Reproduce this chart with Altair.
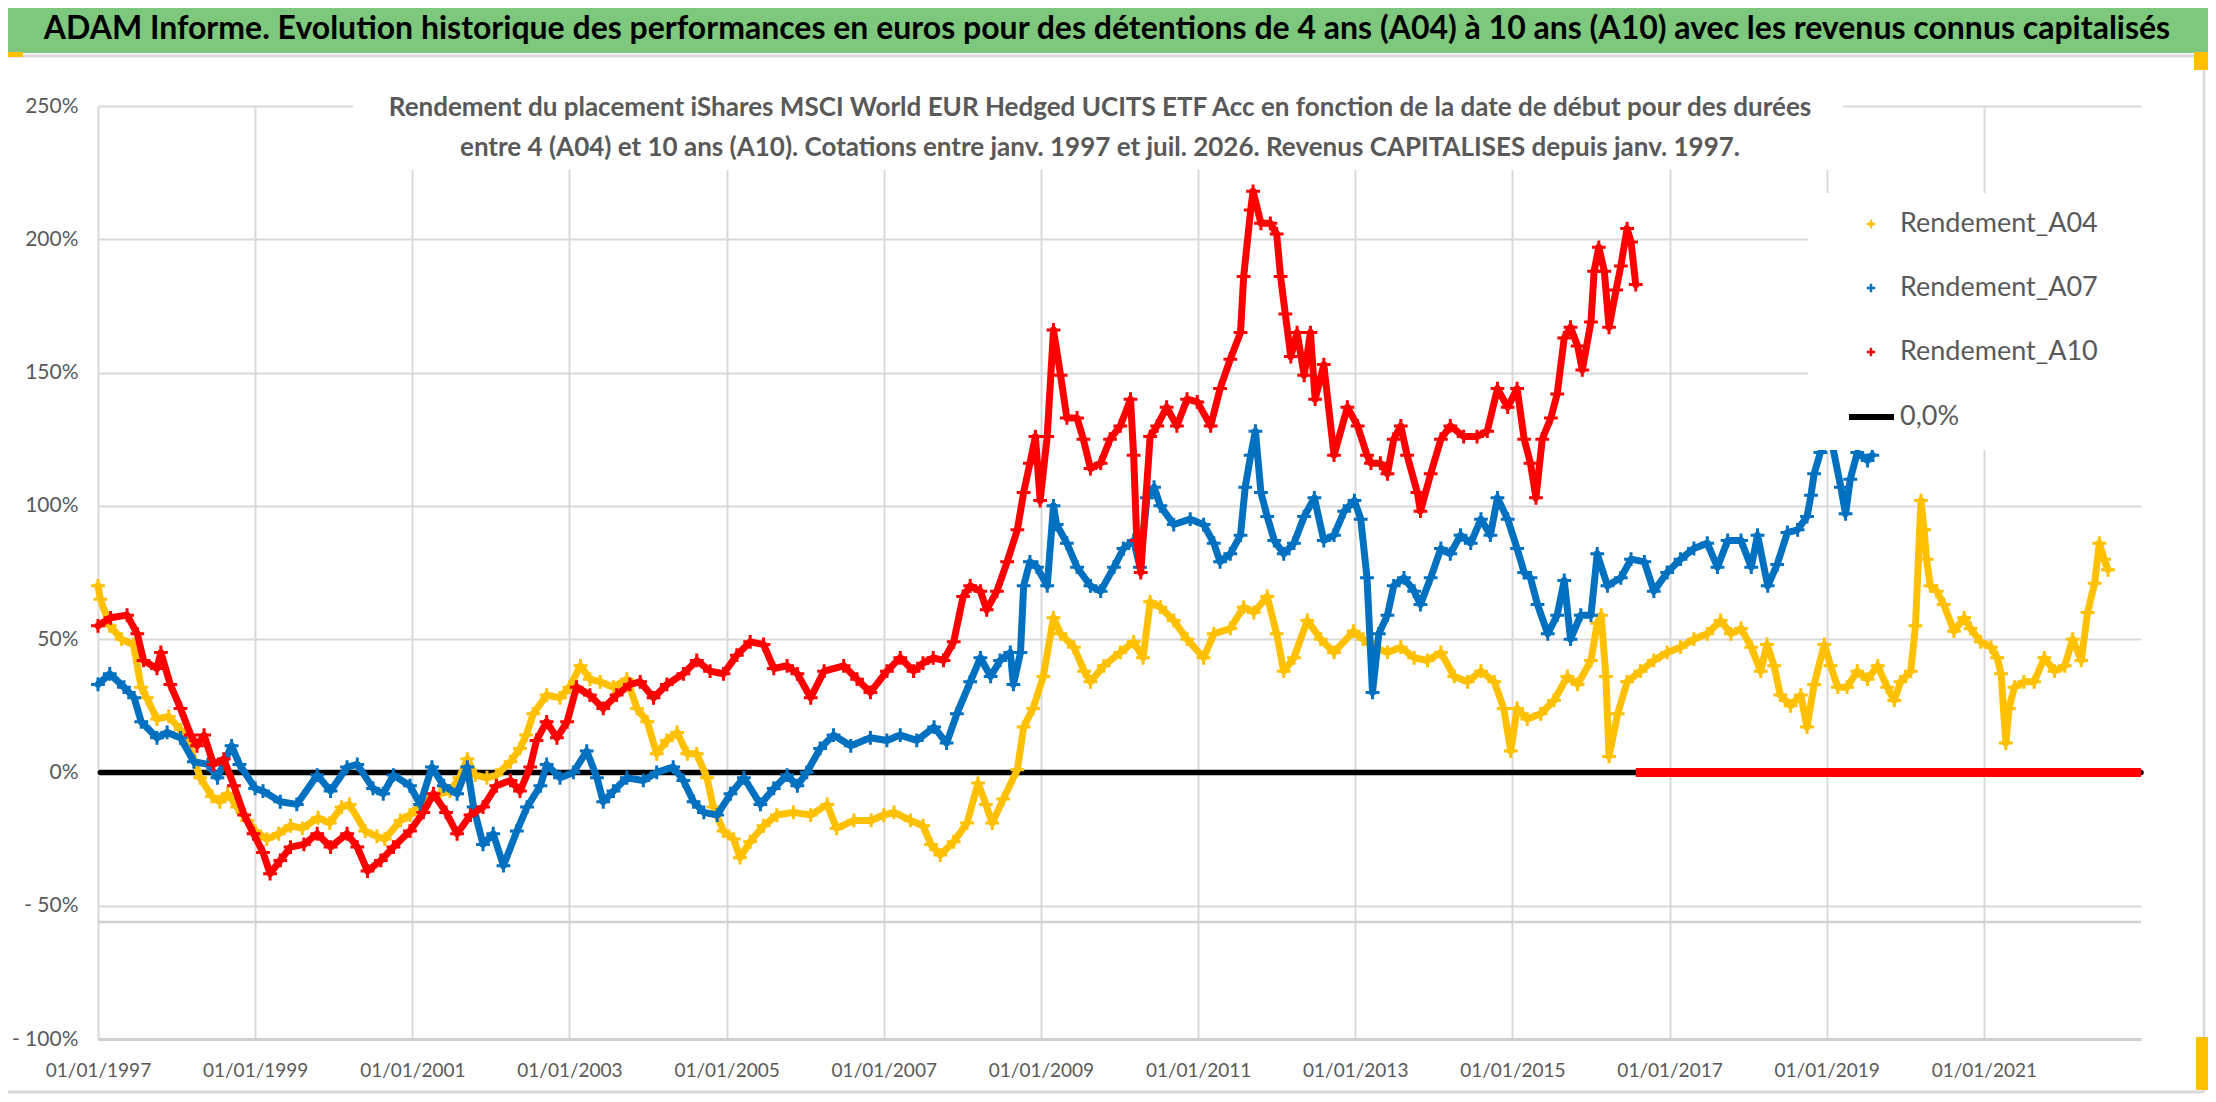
import altair as alt
import pandas as pd

# ---------------- data ----------------
SERIES = ["Rendement_A04", "Rendement_A07", "Rendement_A10"]
COLORS = ["#FFC000", "#0070C0", "#FF0000"]

A04_T = [1997.0, 1997.03, 1997.15, 1997.3, 1997.45, 1997.55, 1997.62, 1997.75, 1997.9, 1998.05,
         1998.15, 1998.3, 1998.45, 1998.55, 1998.65, 1998.77, 1998.9, 1999.0, 1999.15, 1999.3,
         1999.45, 1999.6, 1999.8, 1999.95, 2000.1, 2000.2, 2000.4, 2000.55, 2000.65, 2000.85,
         2000.97, 2001.14, 2001.35, 2001.48, 2001.6, 2001.7, 2001.8, 2001.95, 2002.07, 2002.25,
         2002.37, 2002.45, 2002.54, 2002.71, 2002.88, 2003.0, 2003.14, 2003.26, 2003.39, 2003.56,
         2003.73, 2003.86, 2003.99, 2004.11, 2004.24, 2004.37, 2004.5, 2004.62, 2004.75, 2004.83,
         2004.96, 2005.09, 2005.17, 2005.3, 2005.47, 2005.64, 2005.85, 2006.07, 2006.28, 2006.4,
         2006.62, 2006.84, 2007.0, 2007.13, 2007.34, 2007.5, 2007.6, 2007.72, 2007.89, 2008.06,
         2008.2, 2008.3, 2008.38, 2008.52, 2008.7, 2008.78, 2008.9, 2009.03, 2009.16, 2009.25,
         2009.42, 2009.55, 2009.63, 2009.8, 2010.01, 2010.18, 2010.3, 2010.39, 2010.52, 2010.69,
         2010.86, 2011.07, 2011.2, 2011.41, 2011.58, 2011.71, 2011.88, 2012.0, 2012.09, 2012.22,
         2012.39, 2012.56, 2012.73, 2012.98, 2013.1, 2013.24, 2013.41, 2013.58, 2013.75, 2013.92,
         2014.09, 2014.26, 2014.43, 2014.6, 2014.77, 2014.89, 2014.98, 2015.06, 2015.19, 2015.36,
         2015.53, 2015.7, 2015.83, 2016.0, 2016.08, 2016.13, 2016.19, 2016.23, 2016.34, 2016.46,
         2016.63, 2016.8, 2016.97, 2017.14, 2017.31, 2017.48, 2017.65, 2017.78, 2017.91, 2018.04,
         2018.16, 2018.24, 2018.33, 2018.41, 2018.54, 2018.67, 2018.75, 2018.84, 2018.97, 2019.05,
         2019.14, 2019.26, 2019.39, 2019.52, 2019.65, 2019.77, 2019.86, 2019.94, 2020.07, 2020.13,
         2020.2, 2020.24, 2020.27, 2020.32, 2020.4, 2020.49, 2020.62, 2020.75, 2020.83, 2020.96,
         2021.09, 2021.17, 2021.22, 2021.28, 2021.32, 2021.39, 2021.51, 2021.64, 2021.77, 2021.9,
         2022.03, 2022.13, 2022.24, 2022.32, 2022.41, 2022.47, 2022.53, 2022.58]
A04_V = [70, 65, 55, 50, 48, 32, 28, 20, 21, 16,
         11, -2, -9, -11, -8, -13, -18, -22, -25, -23,
         -20, -21, -17, -19, -13, -12, -22, -24, -25, -18,
         -16, -11, -8, -7, -2, 5, -1, -2, -1, 4,
         9, 14, 22, 29, 28, 32, 40, 35, 34, 32,
         35, 24, 19, 7, 12, 15, 7, 7, -2, -13,
         -22, -25, -32, -26, -20, -16, -15, -16, -12, -21,
         -18, -18, -16, -15, -18, -20, -27, -31, -26, -19,
         -4, -12, -19, -10, 1, 17, 24, 36, 58, 52,
         47, 38, 34, 40, 45, 49, 43, 64, 62, 57,
         50, 43, 52, 54, 62, 60, 66, 52, 38, 43,
         57, 50, 45, 53, 50, 47, 45, 47, 43, 42,
         45, 36, 34, 38, 34, 24, 8, 24, 20, 22,
         27, 36, 33, 42, 56, 59, 36, 6, 22, 34,
         38, 42, 45, 47, 50, 52, 57, 52, 54, 47,
         38, 48, 40, 29, 25, 29, 17, 33, 48, 40,
         32, 32, 38, 35, 40, 32, 27, 34, 38, 55,
         102, 91, 80, 70, 68, 63, 53, 58, 54, 49,
         47, 43, 37, 11, 24, 32, 34, 34, 43, 38,
         40, 50, 42, 60, 71, 86, 80, 76]

A07_T = [1997.0, 1997.15, 1997.33, 1997.46, 1997.55, 1997.75, 1997.88, 1998.05, 1998.22, 1998.4,
         1998.52, 1998.7, 1998.8, 1999.0, 1999.1, 1999.32, 1999.53, 1999.79, 1999.96, 2000.17,
         2000.3, 2000.5, 2000.63, 2000.76, 2000.97, 2001.1, 2001.25, 2001.4, 2001.57, 2001.7,
         2001.78, 2001.9, 2002.03, 2002.16, 2002.33, 2002.46, 2002.63, 2002.71, 2002.88, 2003.05,
         2003.22, 2003.35, 2003.43, 2003.56, 2003.73, 2003.94, 2004.11, 2004.32, 2004.45, 2004.58,
         2004.71, 2004.88, 2005.05, 2005.22, 2005.43, 2005.6, 2005.77, 2005.9, 2006.02, 2006.19,
         2006.36, 2006.58, 2006.83, 2007.04, 2007.21, 2007.42, 2007.64, 2007.8, 2007.93, 2008.1,
         2008.23, 2008.36, 2008.48, 2008.61, 2008.65, 2008.74, 2008.78, 2008.86, 2008.95, 2009.08,
         2009.16, 2009.2, 2009.33, 2009.46, 2009.63, 2009.76, 2009.93, 2010.05, 2010.18, 2010.26,
         2010.35, 2010.44, 2010.52, 2010.69, 2010.9, 2011.07, 2011.2, 2011.28, 2011.41, 2011.54,
         2011.6, 2011.67, 2011.73, 2011.8, 2011.88, 2011.97, 2012.09, 2012.22, 2012.35, 2012.48,
         2012.6, 2012.73, 2012.86, 2012.99, 2013.07, 2013.15, 2013.22, 2013.3, 2013.41, 2013.49,
         2013.62, 2013.75, 2013.83, 2013.96, 2014.09, 2014.21, 2014.34, 2014.47, 2014.6, 2014.72,
         2014.81, 2014.94, 2015.06, 2015.15, 2015.23, 2015.32, 2015.45, 2015.57, 2015.66, 2015.74,
         2015.87, 2016.0, 2016.08, 2016.21, 2016.38, 2016.51, 2016.68, 2016.8, 2016.97, 2017.14,
         2017.31, 2017.48, 2017.61, 2017.74, 2017.91, 2018.04, 2018.12, 2018.25, 2018.37, 2018.5,
         2018.63, 2018.75, 2018.8, 2018.84, 2018.92, 2019.05, 2019.18, 2019.24, 2019.3, 2019.39,
         2019.52, 2019.58]
A07_V = [33, 37, 32, 28, 19, 13, 15, 13, 4, 3,
         -2, 10, 3, -6, -7, -11, -12, -1, -7, 2,
         3, -6, -8, -1, -5, -12, 2, -5, -8, 2,
         -13, -27, -23, -35, -22, -13, -5, 3, -2, 0,
         8, -2, -11, -7, -2, -3, 0, 2, -3, -11,
         -15, -16, -8, -2, -12, -6, -1, -5, 0, 9,
         14, 10, 13, 12, 14, 12, 17, 11, 22, 34,
         43, 36, 42, 45, 33, 45, 70, 79, 77, 70,
         100, 93, 86, 77, 70, 68, 77, 84, 87, 77,
         103, 107, 100, 93, 95, 93, 86, 79, 82, 89,
         107, 119, 128, 105, 96, 87, 82, 86, 96, 103,
         87, 89, 98, 102, 95, 73, 30, 52, 59, 70,
         73, 68, 63, 73, 84, 82, 89, 86, 95, 89,
         103, 95, 84, 75, 73, 63, 52, 59, 72, 50,
         59, 59, 82, 70, 73, 80, 79, 68, 75, 80,
         84, 86, 77, 87, 87, 77, 89, 70, 78, 90,
         91, 96, 104, 112, 120, 126, 107, 97, 110, 120,
         117, 119]

A10_T = [1997.0, 1997.16, 1997.37, 1997.5, 1997.58, 1997.75, 1997.8, 1997.92, 1998.05, 1998.18,
         1998.26, 1998.35, 1998.47, 1998.6, 1998.73, 1998.86, 1998.98, 1999.1, 1999.19, 1999.32,
         1999.45, 1999.62, 1999.79, 1999.96, 2000.17, 2000.3, 2000.43, 2000.6, 2000.76, 2000.97,
         2001.14, 2001.27, 2001.43, 2001.57, 2001.74, 2001.9, 2002.07, 2002.25, 2002.37, 2002.5,
         2002.58, 2002.71, 2002.84, 2002.97, 2003.09, 2003.26, 2003.43, 2003.6, 2003.77, 2003.9,
         2004.07, 2004.24, 2004.45, 2004.62, 2004.79, 2004.96, 2005.13, 2005.3, 2005.47, 2005.6,
         2005.77, 2005.9, 2006.07, 2006.24, 2006.49, 2006.66, 2006.83, 2007.04, 2007.21, 2007.38,
         2007.5, 2007.63, 2007.76, 2007.89, 2008.01, 2008.1, 2008.23, 2008.31, 2008.44, 2008.57,
         2008.7, 2008.78, 2008.86, 2008.93, 2008.99, 2009.08, 2009.16, 2009.25, 2009.33, 2009.46,
         2009.54, 2009.63, 2009.76, 2009.88, 2010.01, 2010.14, 2010.18, 2010.22, 2010.27, 2010.39,
         2010.48, 2010.6, 2010.73, 2010.86, 2010.99, 2011.16, 2011.28, 2011.41, 2011.54, 2011.58,
         2011.67, 2011.7, 2011.8, 2011.92, 2012.0, 2012.05, 2012.11, 2012.18, 2012.26, 2012.35,
         2012.43, 2012.49, 2012.6, 2012.73, 2012.9, 2013.03, 2013.15, 2013.2, 2013.32, 2013.41,
         2013.49, 2013.58, 2013.66, 2013.79, 2013.83, 2013.96, 2014.09, 2014.21, 2014.38, 2014.55,
         2014.68, 2014.81, 2014.94, 2015.06, 2015.15, 2015.23, 2015.3, 2015.38, 2015.49, 2015.57,
         2015.66, 2015.74, 2015.83, 2015.89, 2016.0, 2016.04, 2016.1, 2016.17, 2016.23, 2016.32,
         2016.38, 2016.46, 2016.51, 2016.57]
A10_V = [55, 58, 59, 52, 42, 39, 45, 33, 24, 14,
         10, 14, 3, 5, -5, -16, -23, -30, -38, -33,
         -28, -27, -23, -28, -23, -28, -37, -33, -28, -22,
         -15, -8, -15, -23, -16, -13, -5, -3, -7, 2,
         12, 19, 13, 19, 32, 29, 24, 29, 33, 34,
         28, 33, 37, 42, 38, 37, 44, 49, 48, 39,
         40, 37, 28, 38, 40, 35, 30, 38, 43, 38,
         41, 43, 42, 49, 66, 70, 68, 61, 68, 79,
         91, 105, 116, 126, 102, 126, 166, 149, 133, 133,
         125, 114, 116, 125, 130, 140, 119, 87, 75, 126,
         130, 137, 130, 140, 139, 130, 144, 155, 165, 186,
         211, 218, 206, 206, 202, 186, 172, 156, 165, 149,
         165, 140, 153, 119, 137, 130, 119, 116, 116, 112,
         125, 130, 119, 105, 98, 112, 125, 130, 126, 126,
         128, 144, 137, 144, 125, 116, 103, 125, 133, 142,
         163, 167, 160, 151, 169, 188, 197, 188, 167, 181,
         190, 204, 199, 183]

# A10 returns shown at 0 once the 10-year window runs past the last quote
A10_ZERO_T = [2016.57, 2023.0]
A10_ZERO_V = [0, 0]

# reference line "0,0%"
ZERO_T = [1997.03, 2023.0]
ZERO_V = [0, 0]

X_TICKS = [1997, 1999, 2001, 2003, 2005, 2007, 2009, 2011, 2013, 2015, 2017, 2019, 2021]
Y_TICKS = [-100, -50, 0, 50, 100, 150, 200, 250]

TITLE = ("ADAM Informe. Evolution historique des performances en euros pour des détentions "
         "de 4 ans (A04) à 10 ans (A10) avec les revenus connus capitalisés")
SUB1 = ("Rendement du placement iShares MSCI World EUR Hedged UCITS ETF Acc en fonction "
        "de la date de début pour des durées")
SUB2 = ("entre 4 (A04) et 10 ans (A10). Cotations entre janv. 1997 et juil. 2026. "
        "Revenus CAPITALISES depuis janv. 1997.")
LEGEND_LABELS = SERIES + ["0,0%"]

# ---------------- layout ----------------
W, H = 2043, 933
PAD = {"left": 90, "top": 98, "right": 67, "bottom": 55}
FONT = "Lato"
GRAY = "#595959"
CROSS = "M-1,0L1,0M0,-1L0,1"

x_scale = alt.Scale(domain=[1997, 2023], nice=False, zero=False)
y_scale = alt.Scale(domain=[-100, 250], nice=False, zero=False)

x_axis = alt.Axis(values=X_TICKS, labelExpr="'01/01/' + datum.value", title=None,
                  grid=True, gridColor="#D9D9D9", gridWidth=2,
                  ticks=False, domain=True, domainColor="#D0D0D0", domainWidth=3,
                  labelPadding=22, labelFontSize=19, labelFont=FONT, labelColor=GRAY,
                  labelAngle=0, labelOverlap=False, labelFlush=False)
y_axis = alt.Axis(values=Y_TICKS,
                  labelExpr="datum.value < 0 ? '- ' + (-datum.value) + '%' : datum.value + '%'",
                  title=None, grid=True, gridColor="#D9D9D9", gridWidth=2,
                  ticks=False, domain=False, labelPadding=20, labelOverlap=False,
                  labelFontSize=21, labelFont=FONT, labelColor=GRAY)

X = alt.X("t:Q", scale=x_scale, axis=x_axis)
Y = alt.Y("v:Q", scale=y_scale, axis=y_axis)


def frame(t, v, name):
    return pd.DataFrame({"t": t, "v": v, "series": name})


color = alt.Color("series:N", scale=alt.Scale(domain=SERIES, range=COLORS), legend=None)


def series_layers(df):
    base = alt.Chart(df)
    line = base.mark_line(strokeWidth=7, strokeJoin="round", strokeCap="round").encode(
        x=X, y=Y, color=color)
    pts = base.mark_point(shape=CROSS, filled=False, size=190, strokeWidth=3, opacity=1).encode(
        x=X, y=Y, color=color)
    return [line, pts]


zero_line = alt.Chart(frame(ZERO_T, ZERO_V, "zero")).mark_line(
    color="black", strokeWidth=5.5, strokeCap="round").encode(x=X, y=Y)

a04 = series_layers(frame(A04_T, A04_V, SERIES[0]))
a07 = series_layers(frame(A07_T, A07_V, SERIES[1]))
a10 = series_layers(frame(A10_T, A10_V, SERIES[2]))
a10_zero = alt.Chart(frame(A10_ZERO_T, A10_ZERO_V, SERIES[2])).mark_line(
    color=COLORS[2], strokeWidth=9).encode(x=X, y=Y)

one = alt.InlineData(values=[{"k": 1}])


def box(x1, x2, y1, y2, fill):
    return alt.Chart(one).mark_rect(fill=fill).encode(
        x=alt.value(x1), x2=alt.value(x2), y=alt.value(y1), y2=alt.value(y2))


def rule(x1, x2, y1, y2, color_, sw):
    return alt.Chart(one).mark_rule(color=color_, strokeWidth=sw).encode(
        x=alt.value(x1), x2=alt.value(x2), y=alt.value(y1), y2=alt.value(y2))


def text(s, x, y, size, weight="normal", color_=GRAY, align="center"):
    return alt.Chart(one).mark_text(text=s, font=FONT, fontSize=size, fontWeight=weight,
                                    color=color_, align=align, baseline="middle").encode(
        x=alt.value(x), y=alt.value(y))


deco = [
    # extra horizontal line below -50%
    rule(0, W, 816, 816, "#D0D0D0", 2.5),
    # subtitle box and text
    box(255, 1745, -14, 64, "white"),
    text(SUB1, 1002, 2, 26, "bold"),
    text(SUB2, 1002, 42, 26, "bold"),
    # legend box and entries
    box(1710, 2047, 87, 344, "white"),
]
leg_y = [118, 182, 246]
for lab, col, yy in zip(SERIES, COLORS, leg_y):
    deco.append(alt.Chart(one).mark_point(shape=CROSS, filled=False, size=70, strokeWidth=2.4,
                                           color=col, opacity=1).encode(
        x=alt.value(1773), y=alt.value(yy)))
    deco.append(text(lab, 1802, yy, 27, "normal", GRAY, "left"))
deco.append(rule(1751, 1796, 311, 311, "black", 6))
deco.append(text(LEGEND_LABELS[3], 1802, 311, 27, "normal", GRAY, "left"))

frame_deco = [
    # green header
    box(-90, 2110, -106, -53, "#7DC87D"),
    text(TITLE, 1009, -77, 32, "bold", "black"),
    rule(-90, 2110, -50, -50, "#D9D9D9", 3),
    # chart area border
    rule(2106, 2106, -48, 986, "#D9D9D9", 2.5),
    rule(-90, 2106, 986, 986, "#D9D9D9", 3),
    # selection handles
    box(-90, -75, -54, -49, "#FFC000"),
    box(2096, 2110, -54, -36, "#FFC000"),
    box(2098, 2110, 931, 984, "#FFC000"),
]

chart = alt.layer(
    zero_line, *a04, *a07, *a10, a10_zero, *deco, *frame_deco
).properties(
    width=W, height=H,
    autosize=alt.AutoSizeParams(type="none"),
    padding=PAD,
    background="white",
).configure_view(stroke=None)

chart.save("out.html", embed_options={"renderer": "svg", "actions": False})
